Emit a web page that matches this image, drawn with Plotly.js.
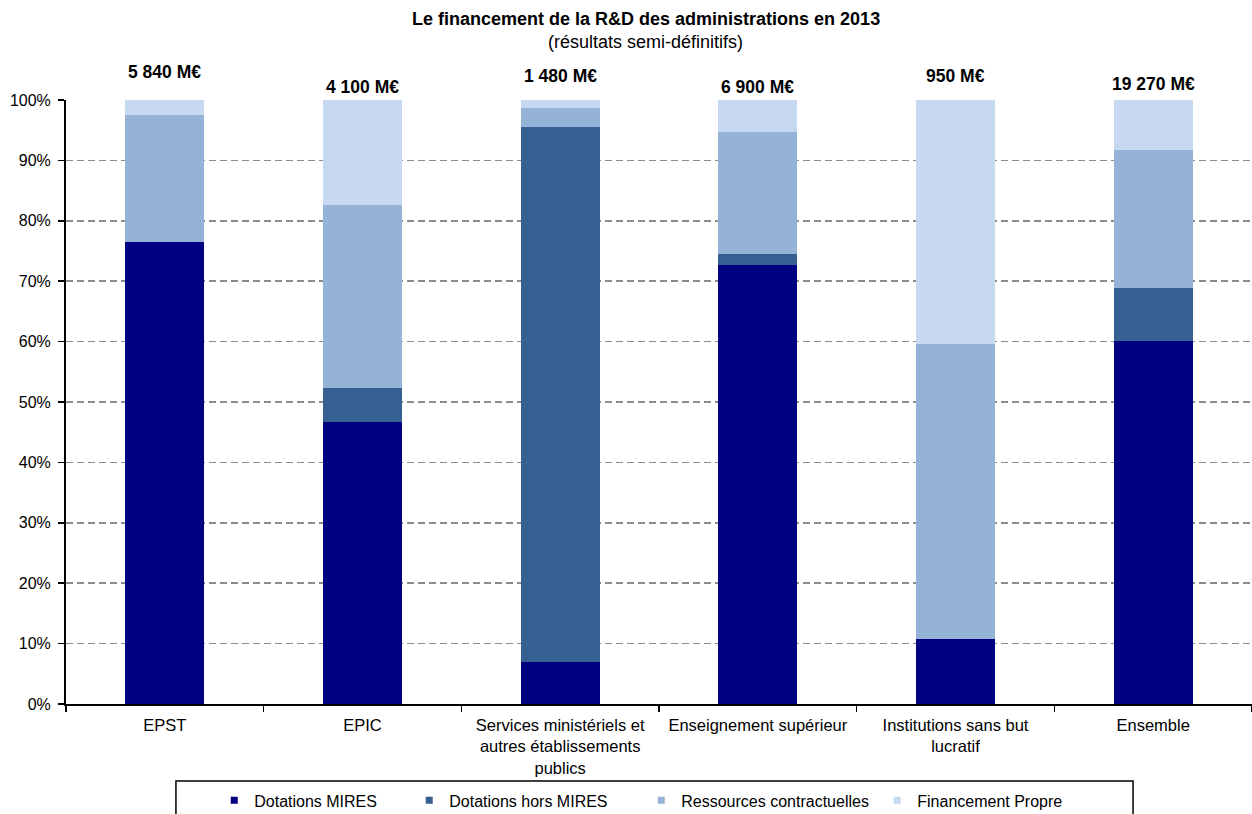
<!DOCTYPE html>
<html>
<head>
<meta charset="utf-8">
<script src="https://cdn.plot.ly/plotly-3.0.1.min.js"></script>
<style>
  html, body { margin: 0; padding: 0; background: #ffffff; }
  #chart { width: 1252px; height: 814px; }
</style>
</head>
<body>
<div id="chart"></div>
<script>
// Financing structure of public-sector R&D, 2013 (share of each source, %)
const categories = [
  "EPST",
  "EPIC",
  "Services ministériels et<br>autres établissements<br>publics",
  "Enseignement supérieur",
  "Institutions sans but<br>lucratif",
  "Ensemble"
];
const dotationsMires           = [76.5, 46.7,  7.0, 72.7, 10.8, 60.1];
const dotationsHorsMires       = [ 0.0,  5.7, 88.5,  1.8,  0.0,  8.7];
const ressourcesContractuelles = [21.0, 30.2,  3.1, 20.2, 48.8, 22.9];
const financementPropre        = [ 2.5, 17.4,  1.4,  5.3, 40.4,  8.3];
const totalLabels = ["5 840 M€", "4 100 M€", "1 480 M€", "6 900 M€", "950 M€", "19 270 M€"];
const seriesNames = ["Dotations MIRES", "Dotations hors MIRES", "Ressources contractuelles", "Financement Propre"];

const seriesValues = [dotationsMires, dotationsHorsMires, ressourcesContractuelles, financementPropre];
const seriesColors = ["#000080", "#366092", "#95b3d7", "#c6d9f1"];
// staggered heights of the total labels above the bars (paper units)
const totalLift = [1.047, 1.022, 1.039, 1.022, 1.039, 1.026];
// per-entry legend widths so the entries spread like the framed key
const legendWidths = [150, 187, 191, 190];

const FONT = "Liberation Sans, Arial, sans-serif";

const traces = seriesValues.map((vals, i) => ({
  type: "bar",
  name: seriesNames[i],
  x: categories,
  y: vals,
  marker: { color: seriesColors[i], line: { width: 0 } },
  showlegend: false,
  hoverinfo: "x+y+name"
}));

// small square keys for the legend
seriesNames.forEach((name, i) => {
  traces.push({
    type: "scatter",
    mode: "markers",
    name: name,
    x: [null],
    y: [null],
    marker: { symbol: "square", size: 7, color: seriesColors[i] },
    legendwidth: legendWidths[i],
    hoverinfo: "skip"
  });
});

const annotations = [
  {
    xref: "paper", yref: "paper", x: 0.489, y: 1.134,
    text: "<b>Le financement de la R&D des administrations en 2013</b>",
    showarrow: false, font: { family: FONT, size: 18, color: "#000" },
    xanchor: "center", yanchor: "middle"
  },
  {
    xref: "paper", yref: "paper", x: 0.489, y: 1.096,
    text: "(résultats semi-définitifs)",
    showarrow: false, font: { family: FONT, size: 18, color: "#000" },
    xanchor: "center", yanchor: "middle"
  }
];
totalLabels.forEach((t, i) => {
  annotations.push({
    xref: "x", yref: "paper", x: categories[i], y: totalLift[i],
    text: "<b>" + t + "</b>",
    showarrow: false, font: { family: FONT, size: 17.5, color: "#000" },
    xanchor: "center", yanchor: "middle"
  });
});

const layout = {
  width: 1252,
  height: 814,
  paper_bgcolor: "#ffffff",
  plot_bgcolor: "#ffffff",
  margin: { l: 66, r: 0, t: 100, b: 110, autoexpand: false },
  barmode: "stack",
  bargap: 0.6,
  font: { family: FONT, size: 16, color: "#000" },
  xaxis: {
    type: "category",
    showline: true, linecolor: "#000", linewidth: 2,
    ticks: "outside", ticklen: 6, tickcolor: "#000", tickwidth: 1.5,
    tickson: "boundaries",
    showgrid: false, zeroline: false,
    tickfont: { family: FONT, size: 16.5, color: "#000" },
    ticklabelstandoff: 5,
    fixedrange: true
  },
  yaxis: {
    range: [0, 100],
    dtick: 10,
    ticksuffix: "%",
    showline: true, linecolor: "#000", linewidth: 2,
    ticks: "outside", ticklen: 6, tickcolor: "#000", tickwidth: 1.5,
    showgrid: true, gridcolor: "#8c8c8c", gridwidth: 1.5, griddash: "7px,4px",
    zeroline: false,
    tickfont: { family: FONT, size: 16, color: "#000" },
    ticklabelstandoff: 4,
    fixedrange: true
  },
  showlegend: true,
  legend: {
    orientation: "h",
    xref: "paper", yref: "paper",
    x: 0.125, xanchor: "left",
    y: -0.1314, yanchor: "top",
    borderwidth: 0,
    bgcolor: "rgba(0,0,0,0)",
    font: { family: FONT, size: 16, color: "#000" },
    itemsizing: "trace",
    traceorder: "normal"
  },
  shapes: [
    {
      type: "rect", xref: "paper", yref: "paper",
      x0: 0.0927, x1: 0.8997, y0: -0.1275, y1: -0.215,
      line: { color: "#000", width: 1.5 }, fillcolor: "rgba(0,0,0,0)",
      layer: "above"
    }
  ],
  annotations: annotations
};

Plotly.newPlot("chart", traces, layout, { displayModeBar: false, staticPlot: true });
</script>
</body>
</html>
